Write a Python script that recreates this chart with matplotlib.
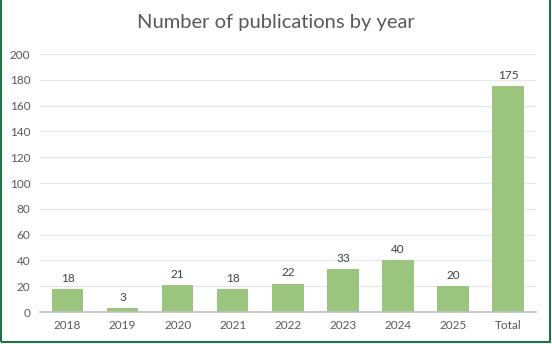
import matplotlib.pyplot as plt
import numpy as np

years = ['2018', '2019', '2020', '2021', '2022', '2023', '2024', '2025', 'Total']
counts = [18, 3, 21, 18, 22, 33, 40, 20, 175]
yticks = list(range(0, 201, 20))

plt.rcParams['font.family'] = ['Lato', 'DejaVu Sans']

fig = plt.figure(figsize=(5.52, 3.44), dpi=100)
ax = fig.add_axes([0.0725, 0.093, 0.898, 0.75])

x = np.arange(len(years))
bars = ax.bar(x, counts, width=0.57, color='#9BC57F', zorder=3)
for xi, v in zip(x, counts):
    ax.text(xi, v + 4, str(v), ha='center', va='bottom', fontsize=8.5, color='#404040')

ax.set_xlim(-0.5, len(years) - 0.5)
ax.set_ylim(0, 200)
ax.set_xticks(x)
ax.set_xticklabels(years)
ax.set_yticks(yticks)
ax.tick_params(axis='both', length=0, labelsize=8.5, colors='#595959')
ax.tick_params(axis='y', pad=7)
ax.tick_params(axis='x', pad=6)
ax.yaxis.grid(True, color='#E6E6E6', linewidth=0.8, zorder=0)
for s in ['top', 'right', 'left']:
    ax.spines[s].set_visible(False)
ax.spines['bottom'].set_color('#BFBFBF')
ax.spines['bottom'].set_linewidth(1.2)
ax.spines['bottom'].set_zorder(4)

fig.text(0.5, 0.935, 'Number of publications by year', ha='center', va='center',
         fontsize=14.5, color='#595959')

# frame around the chart
fig.patches.append(plt.Rectangle((0.002, 0.005), 0.994, 1.2, transform=fig.transFigure,
                                 fill=False, edgecolor='#217346', linewidth=1.5))

fig.savefig('out.png', dpi=100)
